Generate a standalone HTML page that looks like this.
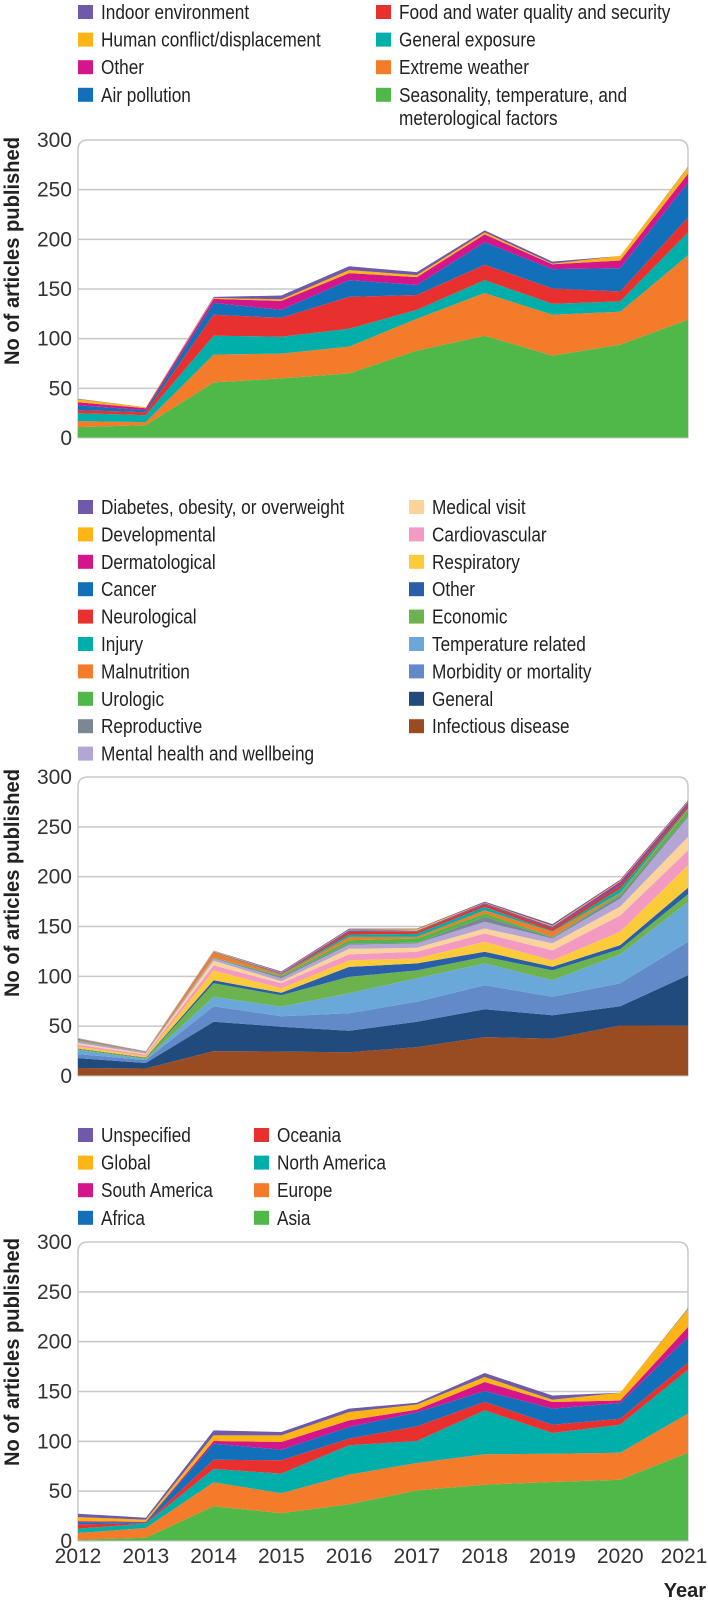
<!DOCTYPE html>
<html><head><meta charset="utf-8"><style>
html,body{margin:0;padding:0;background:#fff;}
svg{display:block;font-family:"Liberation Sans",sans-serif;}
</style></head><body>
<svg id="fig" width="708" height="1602" viewBox="0 0 708 1602"></svg>
<script>
// ---------- shared axis data ----------
const years = ["2012","2013","2014","2015","2016","2017","2018","2019","2020","2021"];
const yTicks = [0,50,100,150,200,250,300];

// ---------- chart 1: exposure ----------
const c1Names = ["Seasonality, temperature, and meterological factors","Extreme weather","General exposure","Food and water quality and security","Air pollution","Other","Human conflict/displacement","Indoor environment"];
const c1Colors = ["#50b848","#f47b29","#00afaa","#e8312f","#1170b9","#d5168b","#fdb515","#6e5aa8"];
const c1Season = [11,13,56,60,65,88,103,83,94,119];
const c1Extreme = [6,3,28,25,27,32,43,41,33,65];
const c1General = [8,7,19,17,18,9,13,11,10.5,23];
const c1Food = [3,3,21,19,32,15,15.5,15.5,10,15];
const c1Air = [5,2,12,8,17,10,22.5,19.5,23.5,35];
const c1Other = [3,2,4,9,7,8,8,5,7.7,9];
const c1Conflict = [3,1,1,1.5,3,2,2,0.6,4.5,6.5];
const c1Indoor = [0.5,0,1,4,4,3,2,2,0,0.5];

// ---------- chart 2: health outcome ----------
const c2Names = ["Infectious disease","General","Morbidity or mortality","Temperature related","Economic","Other","Respiratory","Cardiovascular","Medical visit","Mental health and wellbeing","Reproductive","Urologic","Malnutrition","Injury","Neurological","Cancer","Dermatological","Developmental","Diabetes, obesity, or overweight"];
const c2Colors = ["#994c22","#214b7c","#6289c8","#6aa8da","#6cb350","#2b5ea8","#fccb3a","#f29ac2","#fcd39a","#b3a6d4","#7b8794","#50b848","#f47b29","#00afaa","#e8312f","#1170b9","#d5168b","#fdb515","#6e5aa8"];
const c2Infectious = [8,7.5,25,24.5,23.8,29,39,37.4,50.7,50.5];
const c2General = [10,5.5,29.5,25,21.7,25.5,28,23.6,19.3,50.5];
const c2Morbidity = [4,3,15.5,10.5,17.5,20,24,18.5,23,33.6];
const c2Temperature = [4,1,9.5,9.5,20,23.5,22,16.5,29,40];
const c2Economic = [1,1,13.5,11.5,16.5,8,6.6,10,5.3,7.7];
const c2Other = [0.5,0.5,3,2.5,10,7,5,3.6,4,6.6];
const c2Respiratory = [2,1.5,10,4.5,6.5,5,10,6.4,13.4,22.5];
const c2Cardio = [2,1.5,5,5,6,6.6,8.4,10,16.3,15];
const c2Medical = [1.5,1,4.6,2,5.6,4,5,7,9,13.5];
const c2Mental = [1.5,0.5,2.4,3,4,4.4,6.7,5,8,20];
const c2Repro = [0.5,0.2,0.6,1.5,1.4,0.6,5,1,3,1.6];
const c2Uro = [0.5,0.2,0.4,1,3.3,4.4,3.3,0.7,2,5];
const c2Malnutrition = [0.5,0.2,4.6,1.1,3.3,1.6,3.4,5,0.7,1.4];
const c2Injury = [0.5,0.2,0.3,0.6,2.4,3,3.3,0.7,4.3,1];
const c2Neuro = [0.3,0.2,0.3,0.6,2.6,2,2.7,2.6,3.4,2.6];
const c2Cancer = [0.3,0.2,0.3,0.4,1,0.6,0.6,1,1.6,1.6];
const c2Derm = [0.3,0.2,0.3,0.3,0.7,0.6,0.6,0.7,1.8,1.6];
const c2Dev = [0.3,0.2,0.7,0.3,0.6,1.5,0.4,1,1,0.7];
const c2Diabetes = [0.3,0.2,0.3,1,1,0.6,1,1.7,1.2,1.1];

// ---------- chart 3: region ----------
const c3Names = ["Asia","Europe","North America","Oceania","Africa","South America","Global","Unspecified"];
const c3Colors = ["#50b848","#f47b29","#00afaa","#e8312f","#1170b9","#d5168b","#fdb515","#6e5aa8"];
const c3Asia = [1.3,3.3,34.8,28,36.8,50.8,56.5,59.2,61.5,88.6];
const c3Europe = [6.7,9.7,24.1,20,29.8,27.5,30.5,28.4,27.1,39.2];
const c3NAmerica = [4.4,4.4,13.3,19.6,29.4,22,44,20.8,28.1,44.1];
const c3Oceania = [4.3,0.6,9.4,13.4,6.7,14.7,8.8,8.3,6,7.1];
const c3Africa = [2.3,1,16.1,10.6,11.7,14,10.7,16.1,15.8,25.7];
const c3SAmerica = [1,0.3,2.6,7.7,6.6,2.8,9,6.7,2.5,10];
const c3Global = [4,2.1,5.7,6.7,8.4,5.2,5,2.3,7.8,18.3];
const c3Unspec = [3.4,2,5,3.4,3.4,1.8,4.1,4.2,0,0.8];

// ---------- legend layouts (display order) ----------
const c1LegendLeft = [7,6,5,4];
const c1LegendRight = [3,2,1,0];
const c2LegendLeft = [18,17,16,15,14,13,12,11,10,9];
const c2LegendRight = [8,7,6,5,4,3,2,1,0];
const c3LegendLeft = [7,6,5,4];
const c3LegendRight = [3,2,1,0];

const NS = "http://www.w3.org/2000/svg";
const svg = document.getElementById("fig");
const X0 = 78, X1 = 688;
function xPos(i){ return X0 + (X1 - X0) * i / (years.length - 1); }
function mk(tag, attrs, parent){
  const e = document.createElementNS(NS, tag);
  for (const k in attrs) e.setAttribute(k, attrs[k]);
  (parent || svg).appendChild(e);
  return e;
}

function legend(names, colors, leftIdx, rightIdx, rowY, step, lx, rx, prefix){
  const g = mk("g", {});
  
  
  function entry(idx, x, y){
    const eg = mk("g", {}, g);
    
    
    mk("rect", {x: x, y: y - 7, width: 15, height: 14, fill: colors[idx]}, eg);
    let label = names[idx];
    const lines = (label === "Seasonality, temperature, and meterological factors") ? ["Seasonality, temperature, and","meterological factors"] : [label];
    lines.forEach((ln, j) => {
      const t = mk("text", {transform: "translate(" + (x + 23) + "," + (y + 7 + j * 23) + ") scale(0.86,1)", "font-size": "20", fill: "#222"}, eg);
      t.textContent = ln;
    });
  }
  leftIdx.forEach((idx, r) => entry(idx, lx, rowY + r * step));
  rightIdx.forEach((idx, r) => entry(idx, rx, rowY + r * step));
}

function chart(series, colors, yTop, yBot, prefix, titleCy){
  const g = mk("g", {});
  
  
  function yPos(v){ return yBot - (yBot - yTop) * v / 300; }
  // frame
  const fr = mk("path", {d: "M" + X0 + "," + yBot + " V" + (yTop + 10) + " Q" + X0 + "," + yTop + " " + (X0 + 10) + "," + yTop + " H" + (X1 - 10) + " Q" + X1 + "," + yTop + " " + X1 + "," + (yTop + 10) + " V" + yBot, fill: "none", stroke: "#c8c8c8", "stroke-width": "1.5"}, g);
  
  
  yTicks.forEach(v => {
    if (v > 0 && v < 300) {
      const gl = mk("line", {x1: X0, x2: X1, y1: yPos(v), y2: yPos(v), stroke: "#c8c8c8", "stroke-width": "1.5"}, g);
      
      
    }
    const t = mk("text", {x: 72, y: yPos(v) + 7, "text-anchor": "end", "font-size": "21", fill: "#333"}, g);
    
    
    t.textContent = v;
  });
  // stacked areas
  const cum = years.map(() => 0);
  series.forEach((s, si) => {
    const lower = cum.slice();
    s.forEach((v, i) => cum[i] += v);
    let d = "M";
    cum.forEach((v, i) => d += (i ? " L" : "") + xPos(i).toFixed(1) + "," + yPos(v).toFixed(1));
    for (let i = years.length - 1; i >= 0; i--) d += " L" + xPos(i).toFixed(1) + "," + yPos(lower[i]).toFixed(1);
    d += " Z";
    const p = mk("path", {d: d, fill: colors[si]}, g);
    
    
  });
  const ax = mk("line", {x1: X0, x2: X1, y1: yBot, y2: yBot, stroke: "#c8c8c8", "stroke-width": "1"}, g);
  
  
  const tt = mk("text", {transform: "translate(19," + titleCy + ") rotate(-90)", "text-anchor": "middle", "font-size": "21", "font-weight": "bold", fill: "#222", textLength: "228", lengthAdjust: "spacingAndGlyphs"}, g);
  
  
  tt.textContent = "No of articles published";
}

legend(c1Names, c1Colors, c1LegendLeft, c1LegendRight, 12, 27.6, 78, 376, "exposure");
chart([c1Season,c1Extreme,c1General,c1Food,c1Air,c1Other,c1Conflict,c1Indoor], c1Colors, 140, 438, "exposure", 251);

legend(c2Names, c2Colors, c2LegendLeft, c2LegendRight, 507, 27.4, 78, 409, "outcome");
chart([c2Infectious,c2General,c2Morbidity,c2Temperature,c2Economic,c2Other,c2Respiratory,c2Cardio,c2Medical,c2Mental,c2Repro,c2Uro,c2Malnutrition,c2Injury,c2Neuro,c2Cancer,c2Derm,c2Dev,c2Diabetes], c2Colors, 777, 1076, "outcome", 883);

legend(c3Names, c3Colors, c3LegendLeft, c3LegendRight, 1135, 27.6, 78, 254, "region");
chart([c3Asia,c3Europe,c3NAmerica,c3Oceania,c3Africa,c3SAmerica,c3Global,c3Unspec], c3Colors, 1242, 1541, "region", 1352);

years.forEach((yr, i) => {
  const t = mk("text", {x: Math.min(xPos(i), 684), y: 1563, "text-anchor": "middle", "font-size": "21", fill: "#333"});
  
  
  t.textContent = yr;
});
const yt = mk("text", {x: 706, y: 1597, "text-anchor": "end", "font-size": "20", "font-weight": "bold", fill: "#222"});


yt.textContent = "Year";
</script>
</body></html>
